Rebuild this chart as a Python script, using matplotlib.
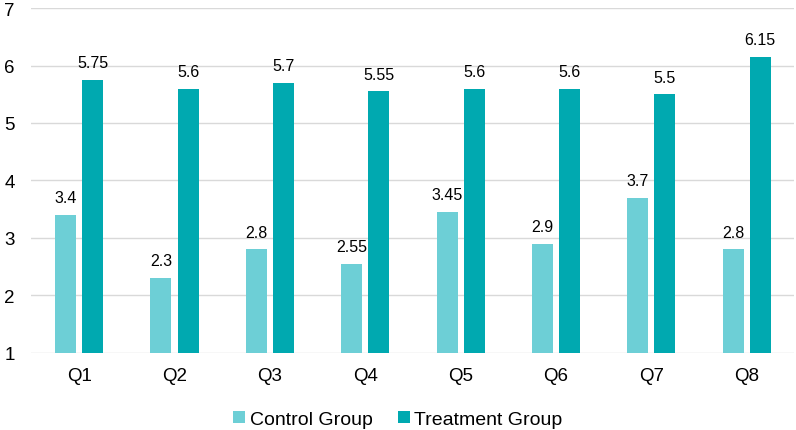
import matplotlib
matplotlib.use("Agg")
import matplotlib.pyplot as plt
import numpy as np

categories = ["Q1", "Q2", "Q3", "Q4", "Q5", "Q6", "Q7", "Q8"]
control = [3.4, 2.3, 2.8, 2.55, 3.45, 2.9, 3.7, 2.8]
treatment = [5.75, 5.6, 5.7, 5.55, 5.6, 5.6, 5.5, 6.15]
yticks = [1, 2, 3, 4, 5, 6, 7]

plt.rcParams['font.family'] = ['Liberation Sans', 'DejaVu Sans']

fig = plt.figure(figsize=(7.96, 4.31), dpi=100)
ax = fig.add_axes([0.0395, 0.179, 0.9585, 0.8])

x = np.arange(len(categories))
w = 0.22
off = 0.142
c1 = "#6dcfd6"
c2 = "#00a9b0"
ax.bar(x - off, [v - 1 for v in control], w, bottom=1, color=c1, label="Control Group", zorder=3)
ax.bar(x + off, [v - 1 for v in treatment], w, bottom=1, color=c2, label="Treatment Group", zorder=3)

for xi, v in zip(x, control):
    ax.annotate(f"{v:g}", (xi - off, v), xytext=(0, 7), textcoords="offset points",
                ha="center", va="bottom", fontsize=11.5, color="#000000")
for xi, v in zip(x, treatment):
    ax.annotate(f"{v:g}", (xi + off, v), xytext=(0, 7), textcoords="offset points",
                ha="center", va="bottom", fontsize=11.5, color="#000000")

ax.set_xlim(-0.5, len(categories) - 0.5)
ax.set_ylim(1, 7)
ax.set_yticks(yticks)
ax.set_xticks(x)
ax.set_xticklabels(categories)
ax.tick_params(axis="both", length=0, labelsize=13.5, colors="#000000")
ax.tick_params(axis="x", pad=10)
ax.tick_params(axis="y", pad=12)
ax.grid(axis="y", color="#d9d9d9", linewidth=1, zorder=0)
for s in ax.spines.values():
    s.set_visible(False)

fig.legend(loc="lower center", bbox_to_anchor=(0.5, -0.035), ncol=2, frameon=False,
           fontsize=14, handlelength=0.6, handleheight=0.6, handletextpad=0.25,
           columnspacing=1.3)

fig.savefig("out.png", dpi=100)
